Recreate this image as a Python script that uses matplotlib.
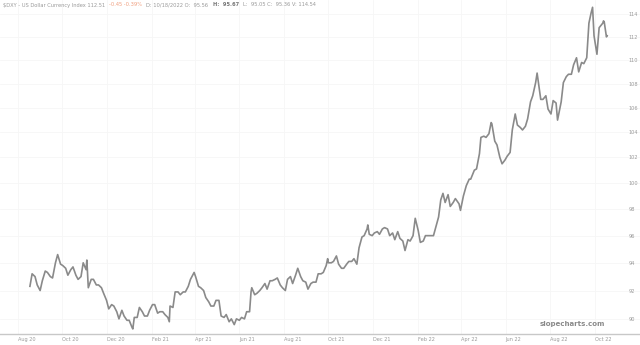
import matplotlib
matplotlib.use("Agg")
import matplotlib.pyplot as plt
import matplotlib.ticker as mticker
import pandas as pd

dates = [
"2020-08-18","2020-08-21","2020-08-25","2020-08-28","2020-09-01","2020-09-04","2020-09-08","2020-09-11",
"2020-09-15","2020-09-18","2020-09-22","2020-09-25","2020-09-29","2020-10-02","2020-10-06","2020-10-09",
"2020-10-13","2020-10-16","2020-10-20","2020-10-23","2020-10-27","2020-10-30","2020-11-03","2020-11-04",
"2020-11-06","2020-11-10","2020-11-13","2020-11-17","2020-11-20","2020-11-24","2020-11-27","2020-12-01",
"2020-12-04","2020-12-08","2020-12-11","2020-12-15","2020-12-18","2020-12-22","2020-12-25","2020-12-29",
"2021-01-01","2021-01-05","2021-01-06","2021-01-08","2021-01-12","2021-01-15","2021-01-19","2021-01-22",
"2021-01-26","2021-01-29","2021-02-02","2021-02-05","2021-02-09","2021-02-12","2021-02-16","2021-02-19",
"2021-02-23","2021-02-25","2021-02-26","2021-03-02","2021-03-05","2021-03-09","2021-03-12","2021-03-16",
"2021-03-19","2021-03-23","2021-03-26","2021-03-31","2021-04-02","2021-04-06","2021-04-09","2021-04-13",
"2021-04-16","2021-04-20","2021-04-23","2021-04-27","2021-04-30","2021-05-04","2021-05-07","2021-05-11",
"2021-05-14","2021-05-18","2021-05-21","2021-05-25","2021-05-28","2021-06-01","2021-06-04","2021-06-08",
"2021-06-11","2021-06-15","2021-06-17","2021-06-18","2021-06-22","2021-06-25","2021-06-29","2021-07-02",
"2021-07-06","2021-07-09","2021-07-13","2021-07-16","2021-07-20","2021-07-23","2021-07-27","2021-07-30",
"2021-08-03","2021-08-06","2021-08-10","2021-08-13","2021-08-17","2021-08-20","2021-08-24","2021-08-27",
"2021-08-31","2021-09-03","2021-09-07","2021-09-10","2021-09-14","2021-09-17","2021-09-21","2021-09-24",
"2021-09-28","2021-09-30","2021-10-01","2021-10-05","2021-10-08","2021-10-12","2021-10-15","2021-10-19",
"2021-10-22","2021-10-26","2021-10-29","2021-11-02","2021-11-05","2021-11-09","2021-11-12","2021-11-16",
"2021-11-19","2021-11-23","2021-11-24","2021-11-26","2021-11-30","2021-12-03","2021-12-07","2021-12-10",
"2021-12-14","2021-12-17","2021-12-21","2021-12-24","2021-12-28","2021-12-31","2022-01-04","2022-01-07",
"2022-01-11","2022-01-14","2022-01-18","2022-01-21","2022-01-25","2022-01-28","2022-02-01","2022-02-04",
"2022-02-08","2022-02-11","2022-02-15","2022-02-18","2022-02-22","2022-02-25","2022-03-01","2022-03-04",
"2022-03-07","2022-03-10","2022-03-14","2022-03-17","2022-03-21","2022-03-24","2022-03-29","2022-03-31",
"2022-04-04","2022-04-08","2022-04-12","2022-04-14","2022-04-19","2022-04-22","2022-04-26","2022-04-28",
"2022-05-02","2022-05-05","2022-05-09","2022-05-12","2022-05-13","2022-05-17","2022-05-20","2022-05-24",
"2022-05-27","2022-05-31","2022-06-03","2022-06-07","2022-06-10","2022-06-14","2022-06-17","2022-06-21",
"2022-06-24","2022-06-28","2022-07-01","2022-07-05","2022-07-08","2022-07-12","2022-07-14","2022-07-19",
"2022-07-22","2022-07-26","2022-07-29","2022-08-02","2022-08-05","2022-08-09","2022-08-11","2022-08-16",
"2022-08-19","2022-08-23","2022-08-26","2022-08-30","2022-09-02","2022-09-06","2022-09-09","2022-09-13",
"2022-09-16","2022-09-20","2022-09-23","2022-09-26","2022-09-28","2022-09-30","2022-10-04","2022-10-07",
"2022-10-12","2022-10-13","2022-10-14","2022-10-17","2022-10-18",
]
closes = [
92.3,93.2,93.0,92.4,92.0,92.7,93.4,93.3,
93.0,92.9,94.0,94.6,93.9,93.8,93.6,93.1,
93.5,93.7,93.1,92.8,93.0,94.0,93.5,94.2,
92.2,92.8,92.8,92.4,92.4,92.2,91.8,91.3,
90.7,91.0,90.9,90.5,90.0,90.6,90.2,89.9,
89.9,89.4,89.3,90.1,90.1,90.8,90.5,90.2,
90.2,90.6,91.0,91.0,90.4,90.5,90.5,90.3,
90.1,89.8,90.9,90.8,91.9,91.9,91.7,91.9,
91.9,92.3,92.8,93.3,93.0,92.3,92.2,92.0,
91.5,91.2,90.9,90.9,91.3,91.3,90.2,90.1,
90.3,89.8,90.0,89.6,90.0,89.9,90.1,90.0,
90.5,90.5,91.9,92.2,91.7,91.8,92.0,92.2,
92.5,92.1,92.7,92.7,92.8,92.9,92.4,92.2,
92.0,92.8,93.0,92.5,93.1,93.6,93.0,92.7,
92.6,92.1,92.5,92.6,92.6,93.2,93.2,93.3,
93.8,94.3,94.0,94.0,94.1,94.5,93.9,93.6,
93.6,93.9,94.1,94.1,94.3,93.9,95.1,95.9,
96.0,96.5,96.8,96.1,96.0,96.2,96.3,96.1,
96.5,96.6,96.5,96.0,96.2,95.7,96.3,95.8,
95.6,94.9,95.7,95.6,96.0,97.3,96.4,95.5,
95.6,96.0,96.0,96.0,96.0,96.6,97.4,98.7,
99.2,98.5,99.1,98.2,98.5,98.8,98.4,97.9,
99.0,99.8,100.3,100.3,101.0,101.1,102.3,103.6,
103.7,103.6,103.9,104.8,104.7,103.3,103.0,102.0,
101.5,101.8,102.1,102.4,104.2,105.5,104.6,104.4,
104.2,104.5,105.1,106.5,107.0,108.1,108.9,106.7,
106.7,107.0,105.9,105.5,106.6,106.4,105.0,106.5,
108.1,108.6,108.8,108.8,109.6,110.2,109.0,109.8,
109.7,110.2,113.2,114.1,114.6,112.1,110.5,112.8,
113.2,113.4,113.3,112.0,112.1,
]

tick_dates = ["2020-08-01","2020-10-01","2020-12-01","2021-02-01","2021-04-01","2021-06-01",
              "2021-08-01","2021-10-01","2021-12-01","2022-02-01","2022-04-01","2022-06-01",
              "2022-08-01","2022-10-01"]
tick_labels = ["Aug 20","Oct 20","Dec 20","Feb 21","Apr 21","Jun 21","Aug 21","Oct 21",
               "Dec 21","Feb 22","Apr 22","Jun 22","Aug 22","Oct 22"]
y_ticks = [90, 92, 94, 96, 98, 100, 102, 104, 106, 108, 110, 112, 114]

header_parts = [
    ("$DXY - US Dollar Currency Index 112.51", "#9a9a9a", "normal"),
    ("-0.45 -0.39%", "#f0a080", "normal"),
    ("D: 10/18/2022 O:  95.56", "#9a9a9a", "normal"),
    ("H:  95.67", "#777777", "bold"),
    ("L:  95.05 C:  95.36 V: 114.54", "#9a9a9a", "normal"),
]

W, H = 640, 345
fig = plt.figure(figsize=(W/100, H/100), dpi=100)
ax = fig.add_axes([0, 11/H, 1.0, 334/H])

x = pd.to_datetime(dates)
ax.plot(x, closes, color="#8a8a8a", lw=1.2)

ax.set_yscale("log")
ax.set_ylim(88.95, 115.25)
ax.set_xlim(pd.Timestamp("2020-07-08"), pd.Timestamp("2022-12-02"))

ax.yaxis.set_major_locator(mticker.FixedLocator(y_ticks))
ax.yaxis.set_major_formatter(mticker.FixedFormatter([str(v) for v in y_ticks]))
ax.yaxis.set_minor_locator(mticker.NullLocator())
ax.yaxis.tick_right()
ax.tick_params(axis="y", length=0, pad=-8, labelsize=3.6, labelcolor="#9a9a9a")

ax.set_xticks(pd.to_datetime(tick_dates))
ax.set_xticklabels(tick_labels)
ax.tick_params(axis="x", length=0, pad=2, labelsize=3.6, labelcolor="#9a9a9a")
for lab in ax.get_xticklabels():
    lab.set_ha("left")

ax.grid(True, axis="both", color="#f6f6f6", lw=0.6)
ax.set_axisbelow(True)
for s in ["top", "left", "right"]:
    ax.spines[s].set_visible(False)
ax.spines["bottom"].set_color("#c8c8c8")
ax.spines["bottom"].set_linewidth(1.0)

ax.text(0.946, 0.022, "slopecharts.com", transform=ax.transAxes, ha="right", va="bottom",
        fontsize=5.0, color="#8a8a8a", fontweight="bold")

fs = 3.7
prev = fig.text(3/W, 1 - 5/H, header_parts[0][0], fontsize=fs, color=header_parts[0][1],
                fontweight=header_parts[0][2], va="center")
for txt, col, wt in header_parts[1:]:
    prev = ax.annotate(txt, xy=(1, 0.5), xycoords=prev, xytext=(3, 0),
                       textcoords="offset points", fontsize=fs, color=col,
                       fontweight=wt, va="center", ha="left", annotation_clip=False)

fig.savefig("out.png", dpi=100, facecolor="white")
